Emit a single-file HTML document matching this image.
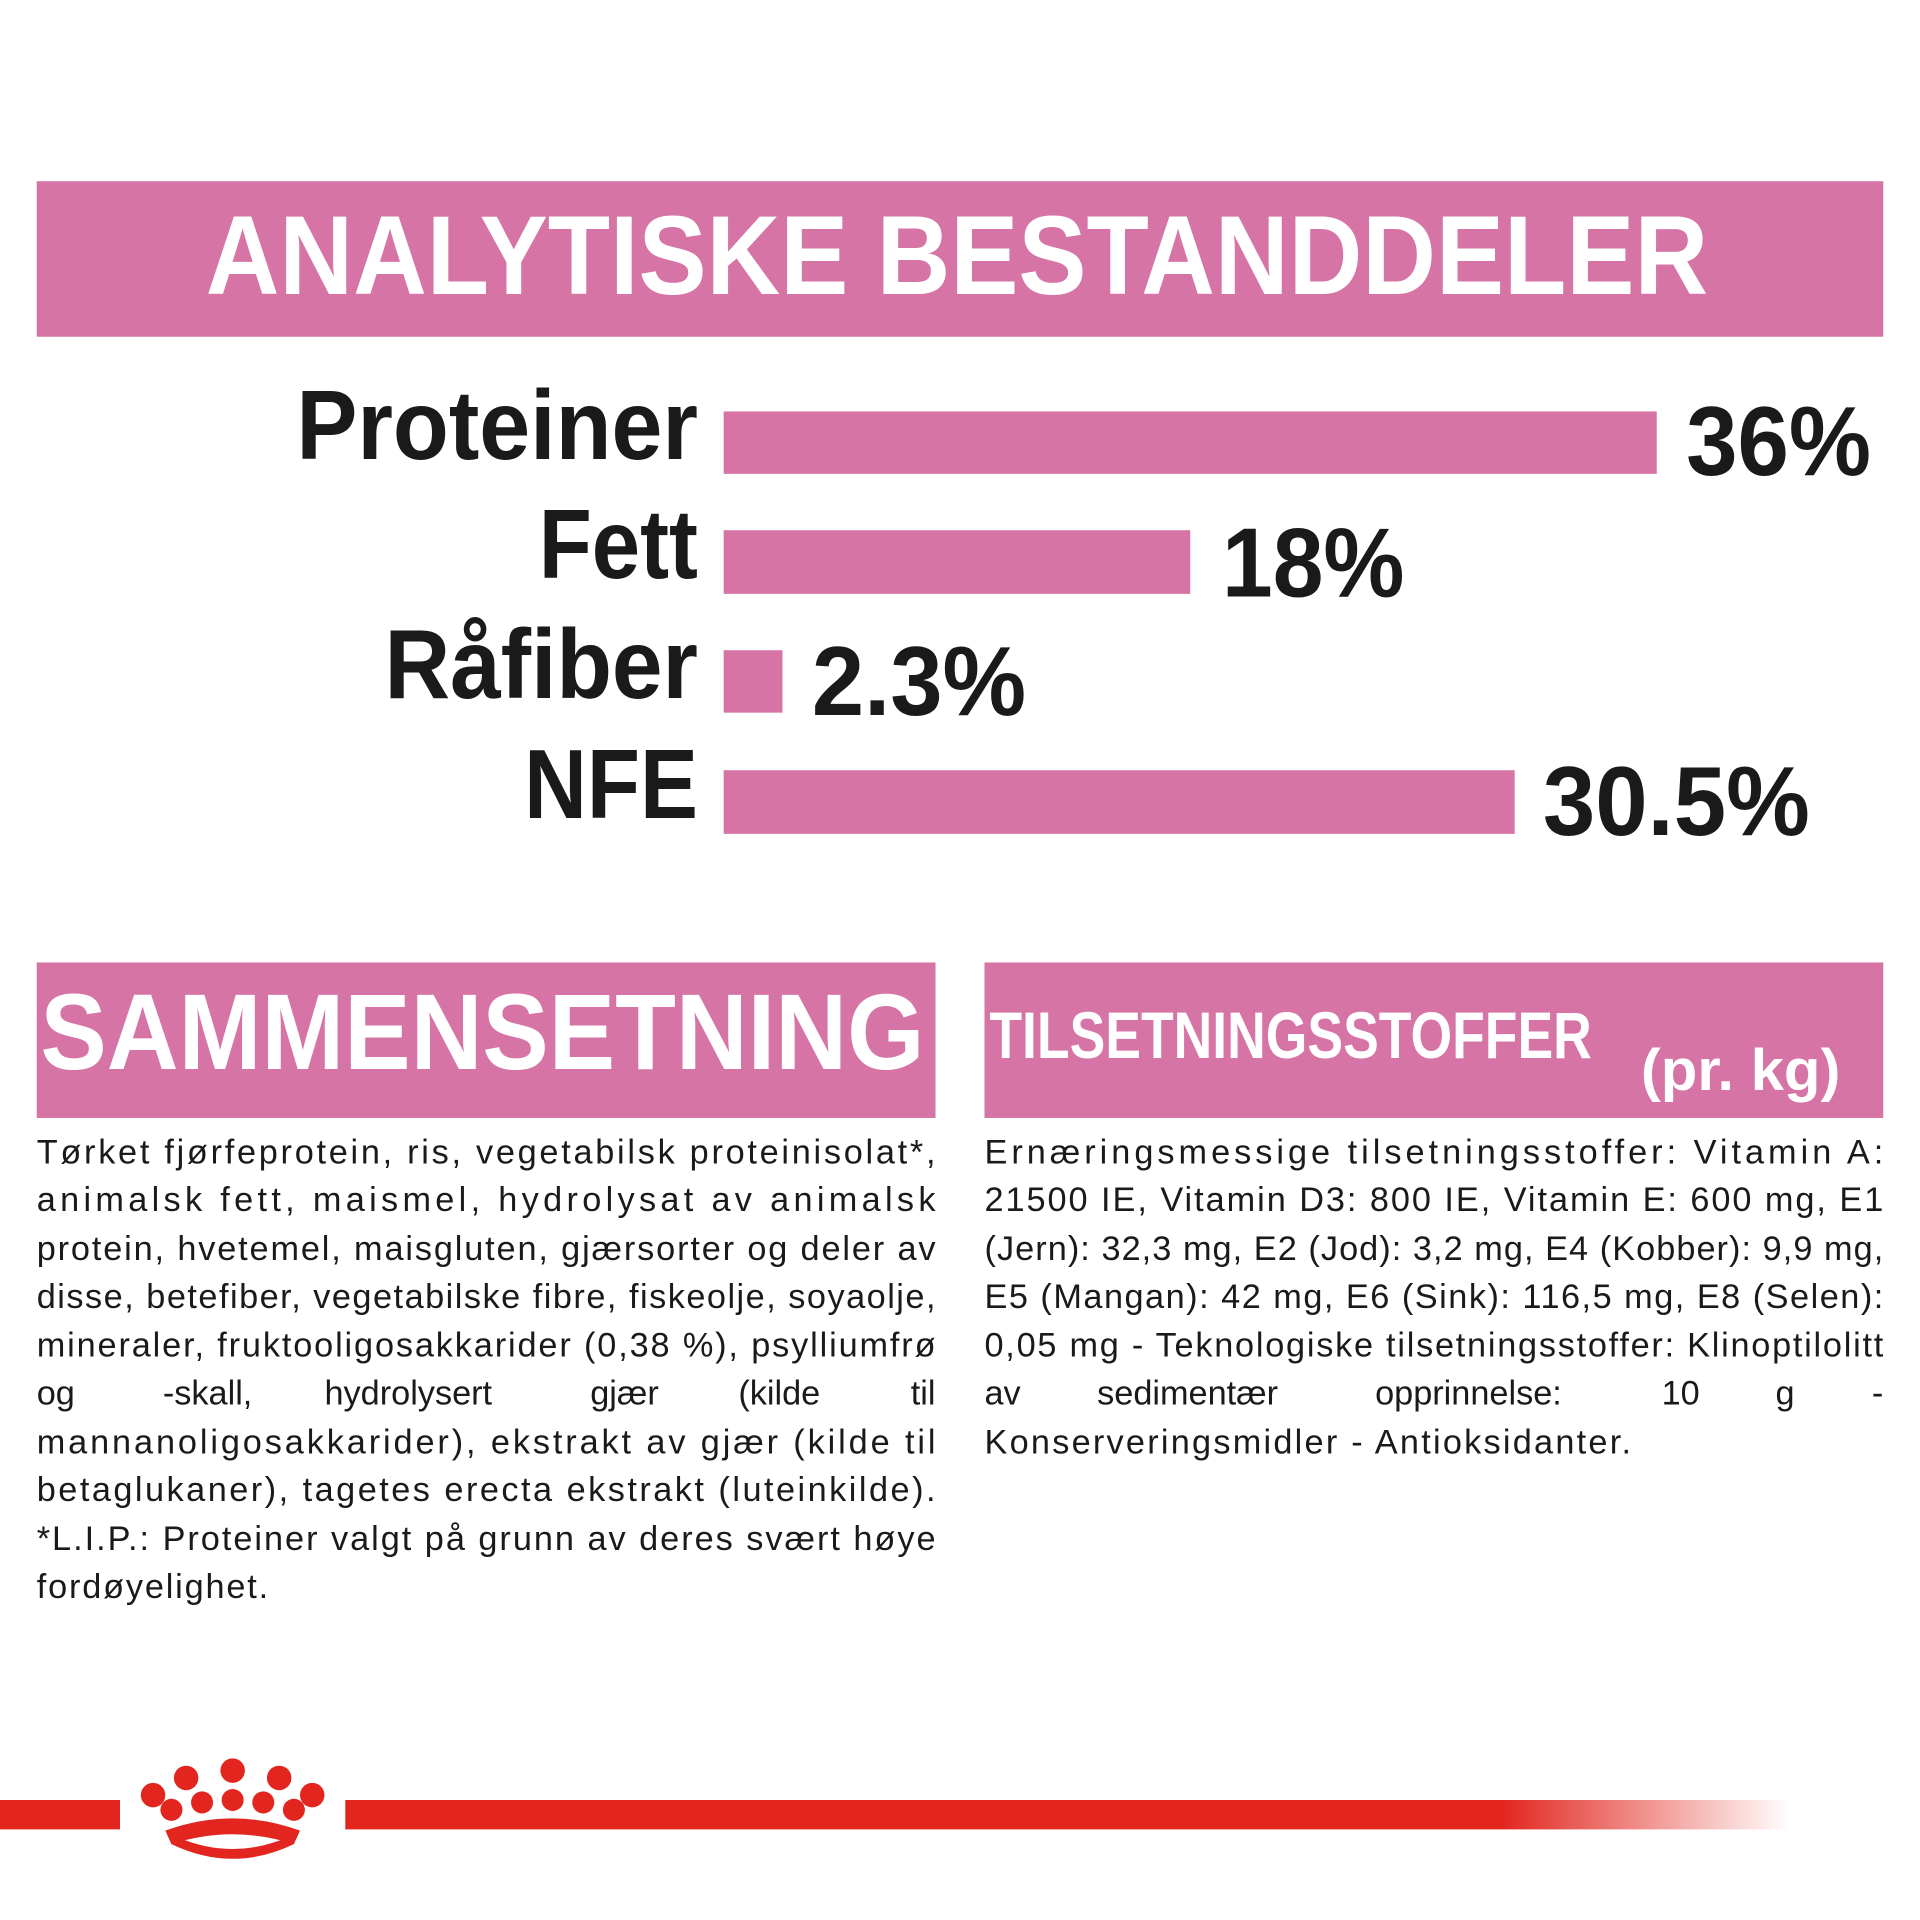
<!DOCTYPE html>
<html><head><meta charset="utf-8"><style>
html,body{margin:0;padding:0;background:#fff;}
svg{display:block;}
text{font-family:"Liberation Sans","DejaVu Sans",sans-serif;}
</style></head><body>
<svg width="1920" height="1920" viewBox="0 0 1568 1568" xmlns="http://www.w3.org/2000/svg">
<defs>
<linearGradient id="fade" x1="0" x2="1">
<stop offset="0" stop-color="#e2261f"/><stop offset="0.8" stop-color="#e2261f"/><stop offset="1" stop-color="#e2261f" stop-opacity="0"/>
</linearGradient>
</defs>
<rect width="1568" height="1568" fill="#fff"/>
<rect x="30" y="148" width="1508" height="127" fill="#d674a6"/>
<text x="168" y="240" font-size="92" font-weight="bold" fill="#fff" textLength="1227" lengthAdjust="spacingAndGlyphs">ANALYTISKE BESTANDDELER</text>

<g font-weight="bold" fill="#1a1a1a" font-size="80">
<text x="570" y="375" text-anchor="end" textLength="328" lengthAdjust="spacingAndGlyphs">Proteiner</text>
<text x="570" y="472" text-anchor="end" textLength="130" lengthAdjust="spacingAndGlyphs">Fett</text>
<text x="570" y="570" text-anchor="end" textLength="256" lengthAdjust="spacingAndGlyphs">Råfiber</text>
<text x="570" y="668" text-anchor="end" textLength="142" lengthAdjust="spacingAndGlyphs">NFE</text>
<text x="1377" y="388" textLength="151" lengthAdjust="spacingAndGlyphs">36%</text>
<text x="998" y="487" textLength="149" lengthAdjust="spacingAndGlyphs">18%</text>
<text x="663" y="584" textLength="175" lengthAdjust="spacingAndGlyphs">2.3%</text>
<text x="1260" y="682" textLength="218" lengthAdjust="spacingAndGlyphs">30.5%</text>
</g>
<g fill="#d674a6">
<rect x="591" y="336" width="762" height="51"/>
<rect x="591" y="433" width="381" height="52"/>
<rect x="591" y="531" width="48" height="51"/>
<rect x="591" y="629" width="646" height="52"/>
</g>

<rect x="30" y="786" width="734" height="127" fill="#d674a6"/>
<text x="33" y="873" font-size="88" font-weight="bold" fill="#fff" textLength="722" lengthAdjust="spacingAndGlyphs">SAMMENSETNING</text>
<rect x="804" y="786" width="734" height="127" fill="#d674a6"/>
<text x="808" y="864" font-size="54" font-weight="bold" fill="#fff" textLength="492" lengthAdjust="spacingAndGlyphs">TILSETNINGSSTOFFER</text>
<text x="1340" y="890" font-size="48" font-weight="bold" fill="#fff" textLength="163" lengthAdjust="spacingAndGlyphs">(pr. kg)</text>

<g font-size="28" fill="#1a1a1a">
<text x="30" y="950" textLength="734" lengthAdjust="spacing">Tørket fjørfeprotein, ris, vegetabilsk proteinisolat*,</text>
<text x="30" y="989" textLength="734" lengthAdjust="spacing">animalsk fett, maismel, hydrolysat av animalsk</text>
<text x="30" y="1029" textLength="734" lengthAdjust="spacing">protein, hvetemel, maisgluten, gjærsorter og deler av</text>
<text x="30" y="1068" textLength="734" lengthAdjust="spacing">disse, betefiber, vegetabilske fibre, fiskeolje, soyaolje,</text>
<text x="30" y="1108" textLength="734" lengthAdjust="spacing">mineraler, fruktooligosakkarider (0,38 %), psylliumfrø</text>
<text x="30" y="1147">og</text>
<text x="133" y="1147">-skall,</text>
<text x="265" y="1147">hydrolysert</text>
<text x="482" y="1147">gjær</text>
<text x="603" y="1147">(kilde</text>
<text x="764" y="1147" text-anchor="end">til</text>
<text x="30" y="1187" textLength="734" lengthAdjust="spacing">mannanoligosakkarider), ekstrakt av gjær (kilde til</text>
<text x="30" y="1226" textLength="734" lengthAdjust="spacing">betaglukaner), tagetes erecta ekstrakt (luteinkilde).</text>
<text x="30" y="1266" textLength="734" lengthAdjust="spacing">*L.I.P.: Proteiner valgt på grunn av deres svært høye</text>
<text x="30" y="1305" textLength="189" lengthAdjust="spacing">fordøyelighet.</text>

<text x="804" y="950" textLength="734" lengthAdjust="spacing">Ernæringsmessige  tilsetningsstoffer:  Vitamin  A:</text>
<text x="804" y="989" textLength="734" lengthAdjust="spacing">21500 IE, Vitamin D3: 800 IE, Vitamin E: 600 mg, E1</text>
<text x="804" y="1029" textLength="734" lengthAdjust="spacing">(Jern): 32,3 mg, E2 (Jod): 3,2 mg, E4 (Kobber): 9,9 mg,</text>
<text x="804" y="1068" textLength="734" lengthAdjust="spacing">E5 (Mangan): 42 mg, E6 (Sink): 116,5 mg, E8 (Selen):</text>
<text x="804" y="1108" textLength="734" lengthAdjust="spacing">0,05 mg - Teknologiske tilsetningsstoffer: Klinoptilolitt</text>
<text x="804" y="1147">av</text>
<text x="896" y="1147">sedimentær</text>
<text x="1123" y="1147">opprinnelse:</text>
<text x="1357" y="1147">10</text>
<text x="1450" y="1147">g</text>
<text x="1538" y="1147" text-anchor="end">-</text>
<text x="804" y="1187" textLength="528" lengthAdjust="spacing">Konserveringsmidler - Antioksidanter.</text>
</g>

<rect x="0" y="1470" width="98" height="24" fill="#e2261f"/>
<rect x="282" y="1470" width="1180" height="24" fill="url(#fade)"/>
<g fill="#e2261f">
<circle cx="125" cy="1466" r="10"/>
<circle cx="255" cy="1466" r="10"/>
<circle cx="152" cy="1452" r="10"/>
<circle cx="228" cy="1452" r="10"/>
<circle cx="190" cy="1446" r="10"/>
<circle cx="140" cy="1478" r="9"/>
<circle cx="240" cy="1478" r="9"/>
<circle cx="165" cy="1472" r="9"/>
<circle cx="215" cy="1472" r="9"/>
<circle cx="190" cy="1470" r="9"/>
</g>
<path d="M135 1495 Q190 1475 245 1495 L240 1506 Q190 1490 140 1506 Z" fill="#e2261f"/>
<path d="M140 1506 Q190 1530 240 1506 L236 1500 Q190 1520 144 1500 Z" fill="#e2261f"/>
</svg>
</body></html>
